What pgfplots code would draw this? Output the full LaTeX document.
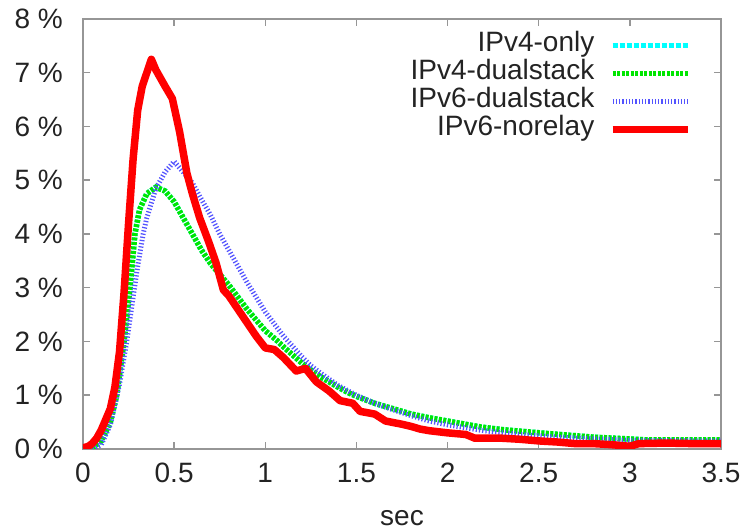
\documentclass[border=0pt]{standalone}
\usepackage{fontspec}
\setmainfont{Liberation Sans}
\usepackage{pgfplots}
\pgfplotsset{compat=1.18}
\definecolor{axisgray}{RGB}{150,150,150}
\definecolor{labelgray}{RGB}{35,35,35}
\definecolor{gpcyan}{RGB}{0,255,255}
\definecolor{gpgreen}{RGB}{0,230,0}
\definecolor{gpblue}{RGB}{40,40,255}
\definecolor{gpred}{RGB}{255,0,0}

\begin{document}
\begin{tikzpicture}
\begin{axis}[
    width=255.2pt, height=172pt, scale only axis,
    xmin=0, xmax=3.5, ymin=0, ymax=8,
    xtick={0,0.5,...,3.5}, ytick={0,1,...,8},
    /pgf/number format/assume math mode=true,
    font=\fontsize{11.2}{13}\selectfont,
    tick label style={color=labelgray},
    yticklabel={\pgfmathprintnumber{\tick}\ \%},
    yticklabel style={xshift=-4.5pt},
    xticklabel style={yshift=-2pt},
    axis line style={axisgray, line width=0.8pt},
    major tick style={axisgray, line width=0.6pt},
    major tick length=2.8pt,
    tick align=inside,
    xlabel={sec},
    xlabel style={at={(rel axis cs:0.5,0)}, anchor=center, yshift=-27.8pt, color=labelgray},
    legend plot pos=right,
    legend cell align=right,
    legend style={draw=none, fill=none, at={(rel axis cs:0.966,0.984)}, anchor=north east,
        column sep=5pt, font=\fontsize{11.2}{13}\selectfont, text=labelgray,
        nodes={inner sep=0.8pt, text height=7.4pt, text depth=2.2pt}},
    legend image code/.code={\draw[#1] (0pt,0pt) -- (30pt,0pt);},
]
% IPv4-only (lies under IPv4-dualstack)
\addplot[gpcyan, line width=2.2pt, dash pattern=on 1.2pt off 0.6pt, forget plot] coordinates {
 (0,0) (0.05,0.02) (0.1,0.15) (0.15,0.5) (0.185,1.0) (0.225,2.0) (0.258,3.0)
 (0.285,4.0) (0.31,4.45) (0.35,4.75) (0.4,4.87) (0.45,4.8) (0.5,4.6) (0.55,4.3)
 (0.6,4.0) (0.65,3.7) (0.7,3.45) (0.75,3.25) (0.8,3.05) (0.9,2.6) (1.0,2.2)
 (1.06,2.03) (1.1,1.9) (1.2,1.6) (1.25,1.47) (1.3,1.35) (1.4,1.15) (1.46,1.04)
 (1.5,0.98) (1.6,0.85) (1.72,0.73) (1.8,0.65) (1.9,0.58) (2.0,0.52) (2.18,0.41)
 (2.3,0.36) (2.54,0.29) (2.8,0.22) (3.09,0.17) (3.5,0.17)
};
\addlegendimage{gpcyan, line width=2pt, dash pattern=on 2pt off 0.8pt}
\addlegendentry{IPv4-only}
% IPv4-dualstack
\addplot[gpgreen, line width=2.2pt, dash pattern=on 1.2pt off 0.6pt] coordinates {
 (0,0) (0.05,0.02) (0.1,0.15) (0.15,0.5) (0.185,1.0) (0.225,2.0) (0.258,3.0)
 (0.285,4.0) (0.31,4.45) (0.35,4.75) (0.4,4.87) (0.45,4.8) (0.5,4.6) (0.55,4.3)
 (0.6,4.0) (0.65,3.7) (0.7,3.45) (0.75,3.25) (0.8,3.05) (0.9,2.6) (1.0,2.2)
 (1.06,2.03) (1.1,1.9) (1.2,1.6) (1.25,1.47) (1.3,1.35) (1.4,1.15) (1.46,1.04)
 (1.5,0.98) (1.6,0.85) (1.72,0.73) (1.8,0.65) (1.9,0.58) (2.0,0.52) (2.18,0.41)
 (2.3,0.36) (2.54,0.29) (2.8,0.22) (3.09,0.17) (3.5,0.17)
};
\addlegendentry{IPv4-dualstack}
% IPv6-dualstack
\addplot[gpblue!80!white, line width=2pt, dash pattern=on 0.5pt off 0.8pt] coordinates {
 (0,0) (0.05,0.0) (0.1,0.08) (0.15,0.45) (0.2,1.2) (0.24,2.0) (0.276,2.85)
 (0.3,3.4) (0.33,4.0) (0.35,4.3) (0.4,4.85) (0.45,5.15) (0.5,5.35) (0.55,5.15)
 (0.6,4.95) (0.64,4.7) (0.7,4.35) (0.75,4.0) (0.8,3.7) (0.85,3.4) (0.9,3.1)
 (1.0,2.55) (1.1,2.1) (1.2,1.72) (1.25,1.55) (1.3,1.42) (1.4,1.18) (1.5,1.0)
 (1.6,0.85) (1.7,0.73) (1.8,0.62) (1.9,0.52) (2.0,0.45) (2.2,0.34) (2.4,0.27)
 (2.6,0.22) (2.8,0.19) (3.0,0.16) (3.5,0.15)
};
\addlegendentry{IPv6-dualstack}
% IPv6-norelay
\addplot[gpred, line width=3pt, line join=round] coordinates {
 (0,0.02) (0.03,0.05) (0.05,0.1) (0.075,0.2) (0.1,0.35) (0.125,0.55) (0.15,0.75)
 (0.175,1.15) (0.2,1.8) (0.225,2.9) (0.25,4.2) (0.275,5.4) (0.3,6.3) (0.325,6.75)
 (0.35,7.0) (0.375,7.25) (0.4,7.05) (0.425,6.9) (0.45,6.75) (0.49,6.52)
 (0.53,5.9) (0.57,5.13) (0.6,4.75) (0.64,4.3) (0.69,3.85) (0.73,3.46) (0.77,2.96)
 (0.8,2.85) (0.85,2.6) (0.9,2.35) (0.95,2.1) (1.0,1.88) (1.05,1.85) (1.1,1.7)
 (1.17,1.45) (1.22,1.5) (1.28,1.25) (1.35,1.08) (1.41,0.9) (1.48,0.85)
 (1.52,0.7) (1.6,0.65) (1.66,0.52) (1.75,0.46) (1.8,0.42) (1.85,0.37) (1.9,0.34)
 (2.0,0.3) (2.1,0.27) (2.15,0.2) (2.3,0.2) (2.4,0.18) (2.5,0.15) (2.6,0.13)
 (2.7,0.1) (2.8,0.1) (2.9,0.08) (3.0,0.05) (3.05,0.1) (3.2,0.11) (3.35,0.1) (3.5,0.1)
};
\addlegendentry{IPv6-norelay}
\end{axis}
\pgfresetboundingbox
\path[use as bounding box] (-33.2pt,-33.2pt) rectangle (265.2pt,179.6pt);
\end{tikzpicture}
\end{document}
